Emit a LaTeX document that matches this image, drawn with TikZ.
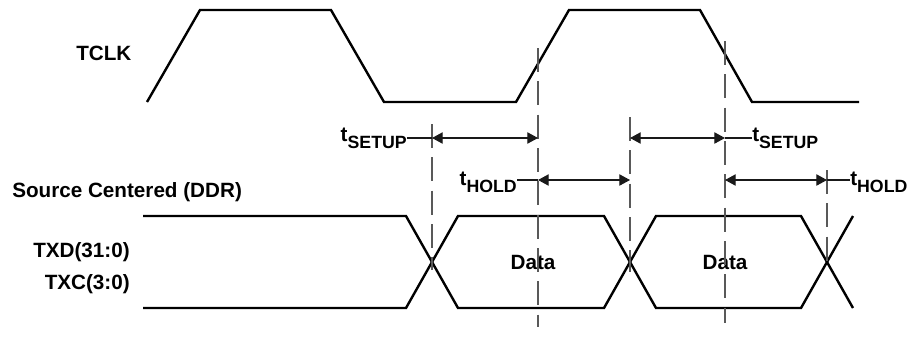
\documentclass[tikz,border=0pt]{standalone}
\usepackage{fontspec}
\setmainfont{Liberation Sans}
\usetikzlibrary{positioning,arrows.meta}

\newcommand{\tsub}[1]{t\raisebox{-5.25pt}{\fontsize{13.3}{15}\selectfont #1}}

\begin{document}
\begin{tikzpicture}[x=0.75pt,y=-0.75pt]
        \useasboundingbox (0,0) rectangle (909,337);
        \tikzstyle{every node} = [inner sep=0pt,font=\bfseries\fontsize{15.5}{18}\selectfont]
        \tikzstyle{wave} = [line width=1.8pt]
        \tikzstyle{guide} = [black!65,line width=0.8pt,dash pattern={on 18pt off 7pt}]
        \tikzstyle{dim} = [line width=0.8pt,black!90]
        \tikzstyle{both} = [dim,{Triangle[length=8pt,width=8.5pt]}-{Triangle[length=8pt,width=8.5pt]}]
        % signal names
        \node[anchor=base west] (tclk) at (76,60) {TCLK};
        \node[anchor=base west] (mode) at (12,197) {Source Centered (DDR)};
        \node[anchor=base east] (txd) at (130,257) {TXD(31:0)};
        \node[anchor=base east] (txc) at (130,289) {TXC(3:0)};
        % clock
        \draw[wave] (147,102) -- (200,10) -- (331,10) -- (384,102) -- (516,102)
                -- (569,10) -- (700,10) -- (752,102) -- (859,102);
        % data eyes
        \draw[wave] (143,216) -- (406,216) -- (458,308) -- (604,308) -- (656,216)
                -- (801,216) -- (853,308);
        \draw[wave] (143,308) -- (406,308) -- (458,216) -- (604,216) -- (656,308)
                -- (801,308) -- (853,216);
        \node[anchor=base] (data1) at (533,269) {Data};
        \node[anchor=base] (data2) at (725,269) {Data};
        % guide lines
        \draw[guide] (432,124) -- (432,270);
        \draw[guide] (538,48) -- (538,327);
        \draw[guide] (630,117) -- (630,272);
        \draw[guide] (725,41) -- (725,323);
        \draw[guide] (827,170) -- (827,268);
        % timing arrows
        \coordinate (s1a) at (432,138);
        \coordinate (s1b) at (538,138);
        \coordinate (h1a) at (538,180);
        \coordinate (h1b) at (630,180);
        \coordinate (s2a) at (630,138);
        \coordinate (s2b) at (725,138);
        \coordinate (h2a) at (725,180);
        \coordinate (h2b) at (827,180);
        \draw[both] (s1a) -- (s1b);
        \draw[both] (h1a) -- (h1b);
        \draw[both] (s2a) -- (s2b);
        \draw[both] (h2a) -- (h2b);
        \node[anchor=base east] (setup1) at (407,141) {\tsub{SETUP}};
        \node[anchor=base east] (hold1) at (517,185) {\tsub{HOLD}};
        \node[anchor=base west] (setup2) at (752,141) {\tsub{SETUP}};
        \node[anchor=base west] (hold2) at (850,185) {\tsub{HOLD}};
        \draw[dim] (setup1.east |- s1a) -- (s1a);
        \draw[dim] (hold1.east |- h1a) -- (h1a);
        \draw[dim] (s2b) -- (s2b -| setup2.west);
        \draw[dim] (h2b) -- (h2b -| hold2.west);
      \end{tikzpicture}
\end{document}
